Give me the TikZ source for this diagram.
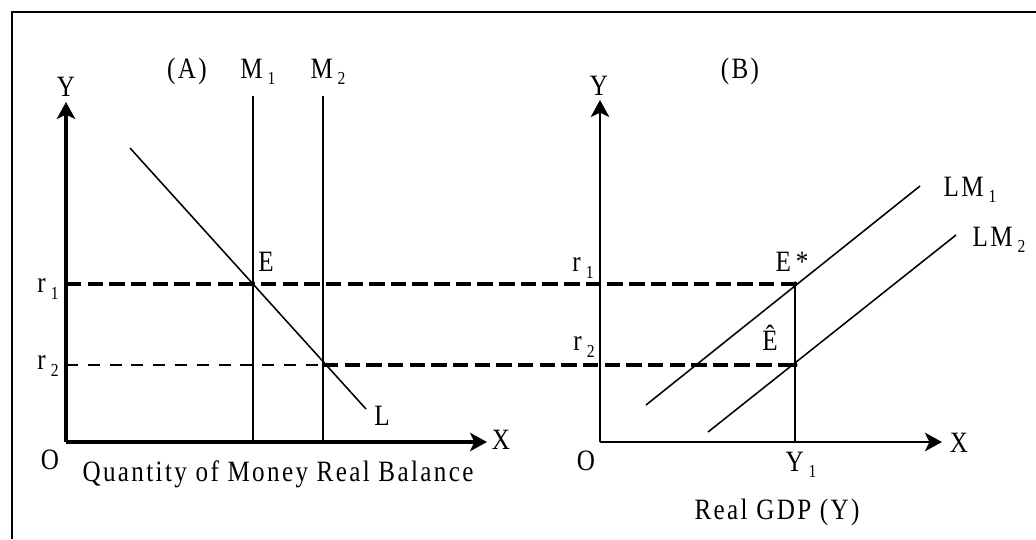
\documentclass[tikz,border=0pt]{standalone}
\usepackage{fontspec}
\setmainfont{Liberation Serif}
\newfontfamily\plotfont[LetterSpace=8, FakeStretch=0.85]{Liberation Serif}
\usetikzlibrary{arrows.meta}
\newcommand{\lsub}[1]{\,\raisebox{-0.45ex}{\fontsize{13}{15}\selectfont #1}}

\begin{document}
\begin{tikzpicture}[
    x=0.025cm, y=-0.025cm,
    lbl/.style={inner sep=0pt, font=\plotfont\fontsize{21}{24}\selectfont},
    axisA/.style={line width=3pt, -{Stealth[length=12pt, width=13pt, inset=3pt]}},
    axisB/.style={line width=2.1pt, -{Stealth[length=12pt, width=13pt, inset=3pt]}},
    curve/.style={line width=1.1pt},
    thickdash/.style={line width=3pt, dash pattern=on 11pt off 4.4pt},
    thindash/.style={line width=1.8pt, dash pattern=on 8.5pt off 7pt}
]
    \useasboundingbox (0,0) rectangle (1036,539);
    % frame
    \draw[line width=1.4pt] (12,539) -- (12,12) -- (1036,12);

    % panel A: money market
    \coordinate (OA) at (66,442);
    \coordinate (YA) at (66,102);
    \coordinate (XA) at (487,442);
    \coordinate (M1top) at (253,96);
    \coordinate (M1bot) at (253,442);
    \coordinate (M2top) at (323,96);
    \coordinate (M2bot) at (323,442);
    \coordinate (Lstart) at (130,148);
    \coordinate (Lend) at (366,409);
    \coordinate (r1A) at (66,284);
    \coordinate (r2A) at (66,365);
    \coordinate (EA) at (253,284);
    \coordinate (E2A) at (323,365);

    % panel B: LM curves
    \coordinate (OB) at (600,442);
    \coordinate (YB) at (600,100);
    \coordinate (XB) at (942,442);
    \coordinate (Estar) at (795,284);
    \coordinate (Ehat) at (795,365);
    \coordinate (Y1) at (795,442);
    \coordinate (LM1a) at (646,405);
    \coordinate (LM1b) at (920,186);
    \coordinate (LM2a) at (708,432);
    \coordinate (LM2b) at (956,235);

    \draw[curve] (M1top) -- (M1bot);
    \draw[curve] (M2top) -- (M2bot);
    \draw[curve] (Lstart) -- (Lend);
    \draw[thickdash] (r1A) -- (Estar);
    \draw[thindash] (r2A) -- (E2A);
    \draw[thickdash] (E2A) -- (Ehat);
    \draw[axisA] (OA) -- (YA);
    \draw[axisA] (OA) -- (XA);

    \draw[curve] (LM1a) -- (LM1b);
    \draw[curve] (LM2a) -- (LM2b);
    \draw[curve] (Estar) -- (Y1);
    \fill (Estar) circle (1.8pt);
    \fill (Ehat) circle (1.8pt);
    \draw[axisB] (OB) -- (YB);
    \draw[axisB] (OB) -- (XB);

    % labels
    \node[lbl] (labA) at (187,71) {(A)};
    \node[lbl] (labM1) at (258,72) {M\lsub{1}};
    \node[lbl] (labM2) at (328,72) {M\lsub{2}};
    \node[lbl] (labYA) at (66,87) {Y};
    \node[lbl] (labXA) at (501,440) {X};
    \node[lbl] (labOA) at (50,460) {O};
    \node[lbl] (labr1A) at (48,289) {r\lsub{1}};
    \node[lbl] (labr2A) at (48,366) {r\lsub{2}};
    \node[lbl] (labE) at (266,262) {E};
    \node[lbl] (labL) at (382,416) {L};
    \node[lbl] (labQ) at (278,474) {Quantity of Money Real Balance};

    \node[lbl] (labB) at (740,71) {(B)};
    \node[lbl] (labYB) at (599,86) {Y};
    \node[lbl] (labXB) at (959,443) {X};
    \node[lbl] (labOB) at (586,461) {O};
    \node[lbl] (labr1B) at (583,268) {r\lsub{1}};
    \node[lbl] (labr2B) at (584,347) {r\lsub{2}};
    \node[lbl] (labEstar) at (792,262) {E\,*};
    \node[lbl] (labEhat) at (770,338) {Ê};
    \node[lbl] (labLM1) at (970,190) {LM\lsub{1}};
    \node[lbl] (labLM2) at (999,240) {LM\lsub{2}};
    \node[lbl] (labY1) at (801,465) {Y\lsub{1}};
    \node[lbl] (labGDP) at (777,512) {Real GDP (Y)};
\end{tikzpicture}
\end{document}
